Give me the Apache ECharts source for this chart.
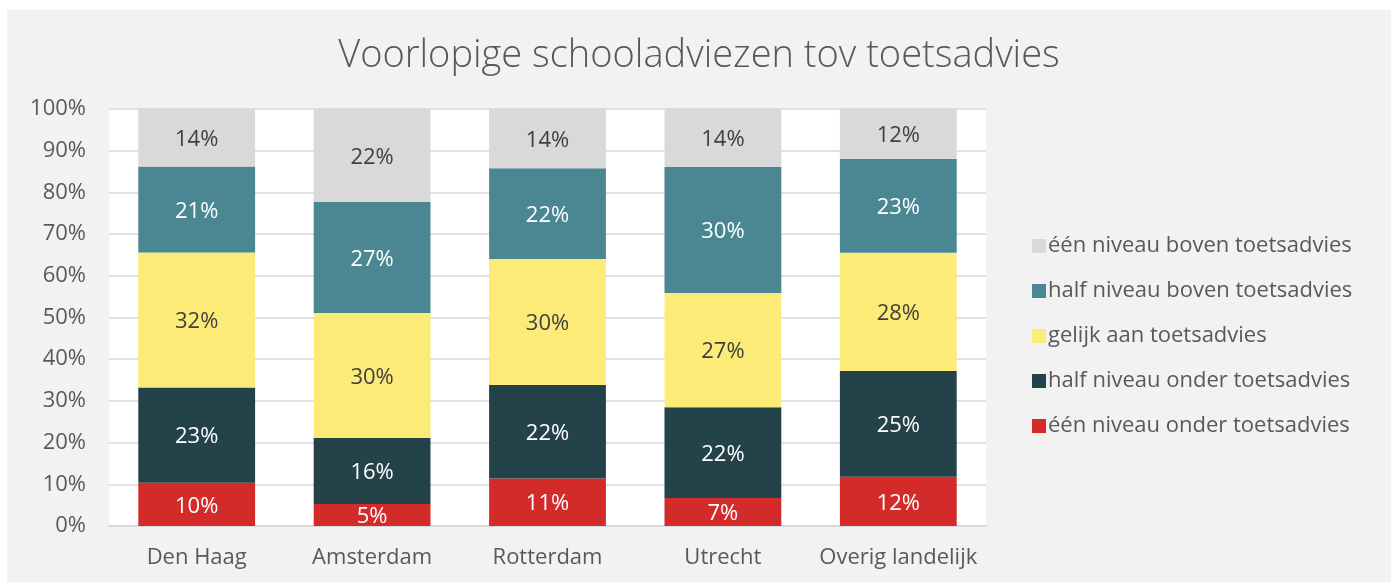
<!DOCTYPE html>
<html>
<head>
<meta charset="utf-8">
<script src="https://cdn.jsdelivr.net/npm/echarts@6/dist/echarts.min.js"></script>
<style>
    html, body {
        margin: 0;
        padding: 0;
        background: #ffffff;
    }
    #chart {
        position: absolute;
        left: 7px;
        top: 10px;
        width: 1384px;
        height: 572px;
    }
</style>
</head>
<body>
<div id="chart"></div>
<script>
const categories = ["Den Haag", "Amsterdam", "Rotterdam", "Utrecht", "Overig landelijk"];

// shares in %
const eenOnder = [10.4, 5.3, 11.4, 6.7, 11.8];
const halfOnder = [22.8, 15.8, 22.4, 21.8, 25.4];
const gelijk = [32.4, 30.0, 30.2, 27.4, 28.3];
const halfBoven = [20.6, 26.6, 21.8, 30.2, 22.5];
const eenBoven = [13.8, 22.3, 14.2, 13.9, 12.0];

const seriesNames = [
    "één niveau onder toetsadvies",
    "half niveau onder toetsadvies",
    "gelijk aan toetsadvies",
    "half niveau boven toetsadvies",
    "één niveau boven toetsadvies",
];

const fontFamily = "'Open Sans', 'Noto Sans', sans-serif";
const textGrey = "#595959";

function makeSeries(name, data, color, labelColor) {
    return {
        type: "bar",
        name,
        stack: "total",
        data,
        barWidth: "66.6%",
        itemStyle: { color },
        label: {
            show: true,
            position: "inside",
            offset: [0, 2],
            color: labelColor,
            fontFamily,
            fontSize: 22,
            formatter: p => `${Math.round(p.value)}%`,
        },
    };
}

const chart = echarts.init(document.getElementById("chart"), null, { renderer: "canvas" });

chart.setOption({
    backgroundColor: "#f2f2f2",
    animation: false,
    title: {
        text: "Voorlopige schooladviezen tov toetsadvies",
        left: "center",
        top: 22,
        textStyle: {
            fontFamily,
            fontWeight: 300,
            fontSize: 38,
            color: textGrey,
        },
    },
    legend: {
        orient: "vertical",
        left: 1020,
        top: 219,
        itemWidth: 14,
        itemHeight: 14,
        itemGap: 21,
        icon: "rect",
        data: seriesNames.slice().reverse(),
        textStyle: {
            fontFamily,
            fontSize: 22,
            color: textGrey,
            lineHeight: 24,
            padding: [0, 0, 0, -3],
        },
    },
    grid: {
        left: 102,
        right: 405,
        top: 99,
        bottom: 56,
        show: true,
        backgroundColor: "#ffffff",
        borderWidth: 0,
    },
    xAxis: {
        type: "category",
        data: categories,
        axisTick: { show: false },
        axisLine: { lineStyle: { color: "#d9d9d9", width: 2 } },
        axisLabel: {
            interval: 0,
            fontFamily,
            fontSize: 22,
            color: textGrey,
            margin: 21,
        },
    },
    yAxis: {
        type: "value",
        min: 0,
        max: 100,
        interval: 10,
        axisLabel: {
            formatter: "{value}%",
            fontFamily,
            fontSize: 22,
            color: textGrey,
            margin: 23,
        },
        splitLine: { lineStyle: { color: "#d9d9d9", width: 1.5 } },
    },
    series: [
        makeSeries(seriesNames[0], eenOnder, "#d32b2a", "#ffffff"),
        makeSeries(seriesNames[1], halfOnder, "#24424a", "#ffffff"),
        makeSeries(seriesNames[2], gelijk, "#fdeb78", "#404040"),
        makeSeries(seriesNames[3], halfBoven, "#4a8793", "#ffffff"),
        makeSeries(seriesNames[4], eenBoven, "#d9d9d9", "#404040"),
    ],
});
</script>
</body>
</html>
